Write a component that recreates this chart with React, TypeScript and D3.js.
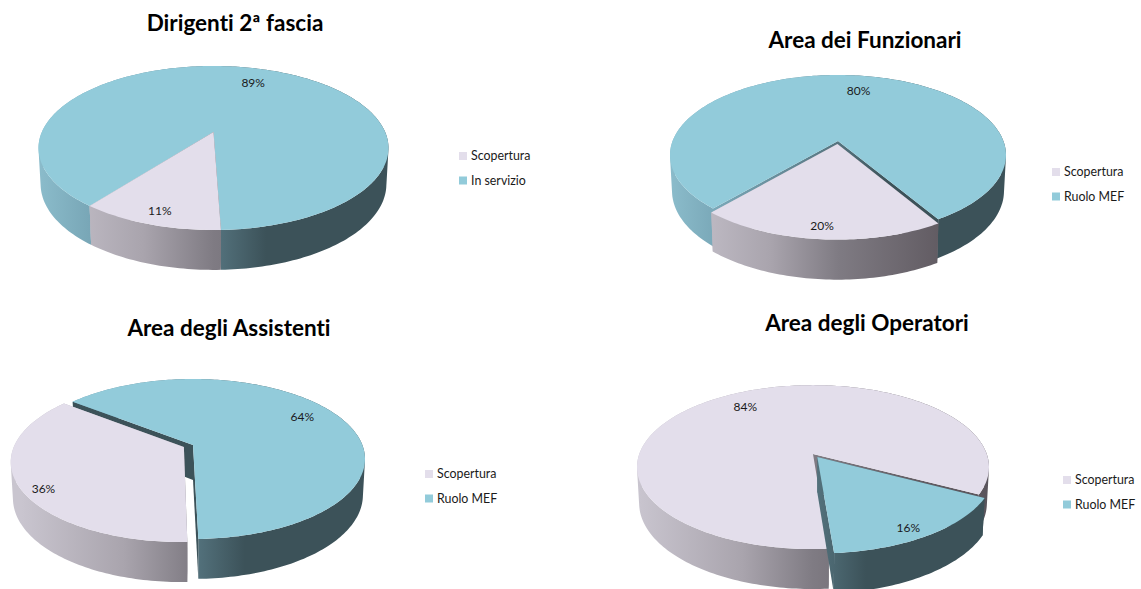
import React from "react";
import { pie, line, range, polygonArea } from "d3";

// values, percent
const dirigentiValues = [11, 89];
const funzionariValues = [20, 80];
const assistentiValues = [36, 64];
const operatoriValues = [84, 16];

const dirigentiLabels = ["Scopertura", "In servizio"];
const ruoloLabels = ["Scopertura", "Ruolo MEF"];

const titles = [
  "Dirigenti 2ª fascia",
  "Area dei Funzionari",
  "Area degli Assistenti",
  "Area degli Operatori"
];

const hues = ["lav", "blue"];
const topColor = { lav: "#e3deeb", blue: "#92cbda" };
const wallStops = {
  lav: [[0, "#c9c5cf"], [0.3, "#a9a4ad"], [0.5, "#7f7b83"], [0.8, "#625c63"], [1, "#5a555c"]],
  blue: [[0, "#8bbccb"], [0.15, "#78a6b6"], [0.5, "#55747f"], [0.65, "#3c5259"], [1, "#3c5259"]]
};

// layout: apex of the pie, ellipse radii, perspective k, first slice angle (deg)
const charts = [
  {
    values: dirigentiValues, labels: dirigentiLabels, title: titles[0],
    cx: 213.5, cy: 132, rx: 175, ry: 82, k: 0.195, start: 178,
    explode: [0, 0], order: [1, 0],
    nudge: [[2, -1], [5, 0]],
    titleX: 235, titleY: 31,
    legendX: 459, legendY: 156
  },
  {
    values: funzionariValues, labels: ruoloLabels, title: titles[1],
    cx: 838, cy: 141, rx: 168, ry: 80, k: 0.175, start: 149,
    explode: [0.04, 0], order: [1, 0],
    nudge: [[0, -1], [11, 1]],
    titleX: 865, titleY: 48,
    legendX: 1052, legendY: 172
  },
  {
    values: assistentiValues, labels: ruoloLabels, title: titles[2],
    cx: 193, cy: 445, rx: 172, ry: 80, k: 0.175, start: 178.5,
    explode: [0.06, 0], order: [1, 0], innerFill: "#3c5259",
    nudge: [[-1, 9], [-3, -3]],
    titleX: 229, titleY: 336,
    legendX: 425, legendY: 474
  },
  {
    values: operatoriValues, labels: ruoloLabels, title: titles[3],
    cx: 813, cy: 454, rx: 176, ry: 82, k: 0.16, start: 175.6,
    explode: [0, 0.045], order: [0, 1],
    nudge: [[-2, -1], [-5, 3]],
    titleX: 867, titleY: 331,
    legendX: 1063, legendY: 480
  }
];

const depth = 35;
const rad = Math.PI / 180;
const font = "Lato, Carlito, sans-serif";
const pathLine = line();

function Pie3D({ chart, index }) {
  const { cx, cy, rx, ry, k } = chart;
  const sx = rx * Math.sqrt(1 - k * k);
  const sy = ry * (1 - k * k);

  // disc coordinates to screen, z = 0 top face, z = 1 base
  const project = (u, v, z) => {
    const w = 1 - k * v;
    return [
      cx + (u / w) * sx * (1 - 0.012 * z),
      cy + (v / w) * sy + depth * z * (1 + 0.14 * v)
    ];
  };

  const arcs = pie()
    .sort(null)
    .startAngle(chart.start * rad)
    .endAngle((chart.start + 360) * rad)(chart.values);

  const slices = arcs.map((a, i) => {
    const mid = (a.startAngle + a.endAngle) / 2;
    const ox = Math.sin(mid) * chart.explode[i];
    const oy = -Math.cos(mid) * chart.explode[i];
    const steps = Math.ceil((a.endAngle - a.startAngle) / 0.02);
    const rim = range(steps + 1).map(s => {
      const t = a.startAngle + ((a.endAngle - a.startAngle) * s) / steps;
      return [Math.sin(t) + ox, -Math.cos(t) + oy];
    });
    const rimAt = z => rim.map(([u, v]) => project(u, v, z));
    const inner = ([u, v]) =>
      pathLine([
        project(ox, oy, 0),
        project(u, v, 0),
        project(u, v, 1),
        project(ox, oy, 1)
      ]) + "Z";
    // the wall is one quad per rim step, all wound the same way, so the
    // corner under the widest point of the ellipse stays filled
    const upper = rimAt(0);
    const lower = rimAt(1);
    const wall = range(steps)
      .map(s => {
        const quad = [upper[s], upper[s + 1], lower[s + 1], lower[s]];
        return pathLine(polygonArea(quad) < 0 ? quad.reverse() : quad) + "Z";
      })
      .join("");
    const labelR = 0.82 - 0.07 * Math.cos(mid);
    const at = project(Math.sin(mid) * labelR + ox, -Math.cos(mid) * labelR + oy, 0);
    return {
      i,
      hue: hues[i],
      top: pathLine([project(ox, oy, 0), ...upper]) + "Z",
      wall,
      innerA: inner(rim[0]),
      innerB: inner(rim[rim.length - 1]),
      label: [at[0] + chart.nudge[i][0], at[1] + chart.nudge[i][1]],
      text: a.value + "%"
    };
  });

  return (
    <g>
      <defs>
        {hues.map(h => (
          <linearGradient
            key={h}
            id={`wall-${index}-${h}`}
            gradientUnits="userSpaceOnUse"
            x1={cx - rx}
            x2={cx + rx}
            y1={0}
            y2={0}
          >
            {wallStops[h].map(([o, c]) => (
              <stop key={o} offset={o} stopColor={c} />
            ))}
          </linearGradient>
        ))}
      </defs>
      {chart.order.map(i => {
        const s = slices[i];
        const fill = `url(#wall-${index}-${s.hue})`;
        const innerFill = (s.hue === "blue" && chart.innerFill) || fill;
        return (
          <g key={i}>
            <path d={s.wall} fill={fill} />
            <path d={s.innerA} fill={innerFill} />
            <path d={s.innerB} fill={innerFill} />
            <path d={s.top} fill={topColor[s.hue]} />
          </g>
        );
      })}
      {slices.map(s => (
        <text
          key={s.i}
          x={s.label[0]}
          y={s.label[1]}
          textAnchor="middle"
          dominantBaseline="central"
          fontFamily={font}
          fontSize={12}
          fill="#1a1a1a"
        >
          {s.text}
        </text>
      ))}
      <text
        x={chart.titleX}
        y={chart.titleY}
        textAnchor="middle"
        fontFamily={font}
        fontWeight="bold"
        fontSize={22.5}
        fill="#000"
        style={{ fontVariantLigatures: "none" }}
      >
        {chart.title}
      </text>
      {chart.labels.map((l, i) => (
        <g key={l} transform={`translate(${chart.legendX}, ${chart.legendY + i * 24.5})`}>
          <rect x={0} y={-4} width={8} height={8} fill={topColor[hues[i]]} />
          <text
            x={12}
            y={-0.5}
            dominantBaseline="central"
            fontFamily={font}
            fontSize={12.4}
            fill="#1a1a1a"
            style={{ fontVariantLigatures: "none" }}
          >
            {l}
          </text>
        </g>
      ))}
    </g>
  );
}

export default function App() {
  return (
    <svg
      width={1141}
      height={589}
      style={{ position: "absolute", left: 0, top: 0, background: "#fff" }}
    >
      {charts.map((c, i) => (
        <Pie3D key={c.title} chart={c} index={i} />
      ))}
    </svg>
  );
}
